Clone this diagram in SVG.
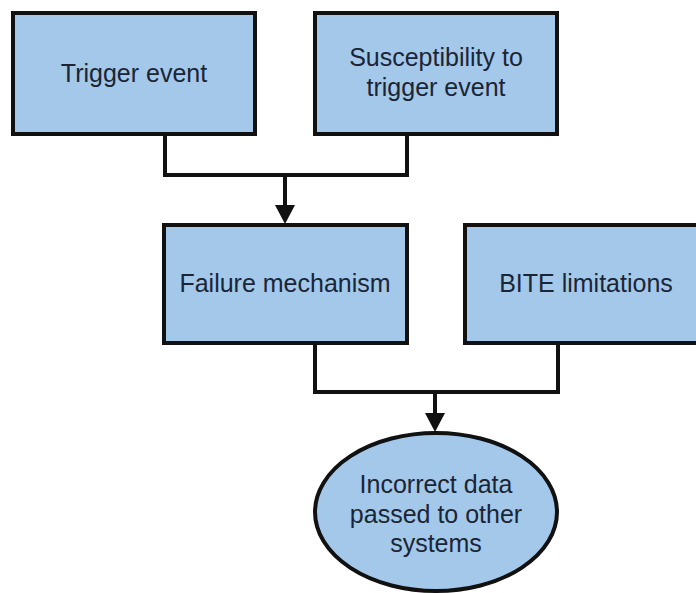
<svg xmlns="http://www.w3.org/2000/svg" width="696" height="593" viewBox="0 0 696 593">
<style>
.box{fill:#a3c8ea;stroke:#111;stroke-width:4}
.lbl{font-family:"Liberation Sans",Arial,sans-serif;font-size:25px;fill:#1b2535;text-anchor:middle}
.wire{fill:none;stroke:#111;stroke-width:4}
.head{fill:#111}
</style>
<rect width="696" height="593" fill="#ffffff"/>
<g id="connectors">
<polyline class="wire" points="165,134 165,175 407,175 407,134"/>
<line class="wire" x1="285" y1="175" x2="285" y2="208"/>
<polygon class="head" points="275,205 295,205 285,224"/>
<polyline class="wire" points="315,343 315,392 558,392 558,343"/>
<line class="wire" x1="435" y1="392" x2="435" y2="416"/>
<polygon class="head" points="425,413 445,413 435,432"/>
</g>
<g id="trigger">
<rect class="box" x="13" y="13" width="242" height="121"/>
<text class="lbl" x="134" y="82">Trigger event</text>
</g>
<g id="susceptibility">
<rect class="box" x="315" y="13" width="242" height="121"/>
<text class="lbl" x="436" y="66">Susceptibility to</text>
<text class="lbl" x="436" y="96">trigger event</text>
</g>
<g id="failure">
<rect class="box" x="164" y="225" width="243" height="118"/>
<text class="lbl" x="285" y="292">Failure mechanism</text>
</g>
<g id="bite">
<rect class="box" x="465" y="225" width="243" height="118"/>
<text class="lbl" x="586" y="292">BITE limitations</text>
</g>
<g id="incorrect">
<ellipse class="box" cx="436" cy="512" rx="121" ry="79"/>
<text class="lbl" x="436" y="493">Incorrect data</text>
<text class="lbl" x="436" y="523">passed to other</text>
<text class="lbl" x="436" y="552">systems</text>
</g>
</svg>
